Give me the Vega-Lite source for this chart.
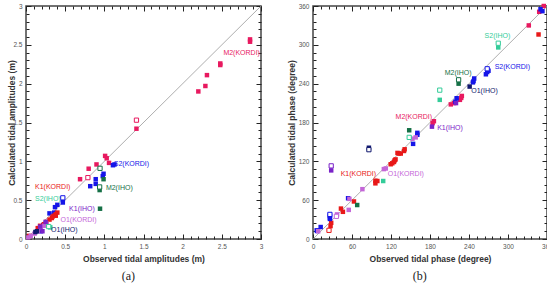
{
  "$schema": "https://vega.github.io/schema/vega-lite/v6.json",
  "padding": {"left": 7, "top": 2, "right": 0, "bottom": 0},
  "background": "white",
  "spacing": 22,
  "config": {
    "font": "Liberation Sans",
    "view": {"stroke": "#444", "strokeWidth": 1.5},
    "axis": {"grid": false, "domain": false, "tickColor": "#222", "tickWidth": 1, "labelFontSize": 6.5, "labelColor": "#555", "labelFont": "Liberation Sans", "titleFont": "Liberation Sans", "titleFontSize": 8.5, "titleFontWeight": "bold", "titleColor": "#333", "labelFlush": false, "labelOverlap": false, "labelPadding": 9}
  },
  "datasets": {
    "adiag": [{"x0": 0, "y0": 0, "x1": 3, "y1": 3}],
    "bdiag": [{"x0": 0, "y0": 0, "x1": 360, "y1": 360}],
    "a": [
      {"s": "M2(KORDI)", "x": 2.86, "y": 2.57, "o": 0},
      {"s": "M2(KORDI)", "x": 2.86, "y": 2.54, "o": 0},
      {"s": "M2(KORDI)", "x": 2.48, "y": 2.26, "o": 0},
      {"s": "M2(KORDI)", "x": 2.48, "y": 2.24, "o": 0},
      {"s": "M2(KORDI)", "x": 2.31, "y": 2.11, "o": 0},
      {"s": "M2(KORDI)", "x": 2.29, "y": 1.97, "o": 0},
      {"s": "M2(KORDI)", "x": 2.2, "y": 1.9, "o": 0},
      {"s": "M2(KORDI)", "x": 1.41, "y": 1.42, "o": 0},
      {"s": "M2(KORDI)", "x": 1.01, "y": 1.07, "o": 0},
      {"s": "M2(KORDI)", "x": 1.03, "y": 1.04, "o": 0},
      {"s": "M2(KORDI)", "x": 1.06, "y": 0.98, "o": 0},
      {"s": "M2(KORDI)", "x": 0.9, "y": 0.96, "o": 0},
      {"s": "M2(KORDI)", "x": 0.8, "y": 0.905, "o": 0},
      {"s": "M2(KORDI)", "x": 0.69, "y": 0.77, "o": 0},
      {"s": "M2(KORDI)", "x": 1.41, "y": 1.53, "o": 1},
      {"s": "M2(KORDI)", "x": 0.79, "y": 0.79, "o": 1},
      {"s": "S2(KORDI)", "x": 1.13, "y": 0.96, "o": 0},
      {"s": "S2(KORDI)", "x": 1.11, "y": 0.95, "o": 0},
      {"s": "S2(KORDI)", "x": 0.99, "y": 0.84, "o": 0},
      {"s": "S2(KORDI)", "x": 0.98, "y": 0.81, "o": 0},
      {"s": "S2(KORDI)", "x": 0.89, "y": 0.77, "o": 0},
      {"s": "S2(KORDI)", "x": 0.89, "y": 0.71, "o": 0},
      {"s": "S2(KORDI)", "x": 0.82, "y": 0.68, "o": 0},
      {"s": "S2(KORDI)", "x": 0.47, "y": 0.51, "o": 0},
      {"s": "S2(KORDI)", "x": 0.47, "y": 0.47, "o": 0},
      {"s": "S2(KORDI)", "x": 0.4, "y": 0.44, "o": 0},
      {"s": "S2(KORDI)", "x": 0.37, "y": 0.41, "o": 0},
      {"s": "S2(KORDI)", "x": 0.36, "y": 0.34, "o": 0},
      {"s": "S2(KORDI)", "x": 0.3, "y": 0.33, "o": 0},
      {"s": "S2(KORDI)", "x": 0.19, "y": 0.1, "o": 0},
      {"s": "S2(KORDI)", "x": 0.22, "y": 0.18, "o": 0},
      {"s": "S2(KORDI)", "x": 0.47, "y": 0.53, "o": 1},
      {"s": "M2(IHO)", "x": 0.99, "y": 0.77, "o": 0},
      {"s": "M2(IHO)", "x": 0.94, "y": 0.63, "o": 0},
      {"s": "M2(IHO)", "x": 0.945, "y": 0.39, "o": 0},
      {"s": "M2(IHO)", "x": 0.945, "y": 0.91, "o": 1},
      {"s": "M2(IHO)", "x": 0.94, "y": 0.67, "o": 1},
      {"s": "K1(KORDI)", "x": 0.4, "y": 0.34, "o": 0},
      {"s": "K1(KORDI)", "x": 0.38, "y": 0.32, "o": 0},
      {"s": "K1(KORDI)", "x": 0.36, "y": 0.3, "o": 0},
      {"s": "K1(KORDI)", "x": 0.33, "y": 0.27, "o": 0},
      {"s": "K1(KORDI)", "x": 0.3, "y": 0.25, "o": 0},
      {"s": "K1(KORDI)", "x": 0.26, "y": 0.22, "o": 0},
      {"s": "K1(KORDI)", "x": 0.23, "y": 0.19, "o": 0},
      {"s": "K1(KORDI)", "x": 0.18, "y": 0.17, "o": 0},
      {"s": "K1(KORDI)", "x": 0.15, "y": 0.14, "o": 0},
      {"s": "K1(KORDI)", "x": 0.04, "y": 0.04, "o": 0},
      {"s": "K1(KORDI)", "x": 0.38, "y": 0.3, "o": 0},
      {"s": "K1(KORDI)", "x": 0.34, "y": 0.29, "o": 0},
      {"s": "O1(KORDI)", "x": 0.06, "y": 0.04, "o": 0},
      {"s": "O1(KORDI)", "x": 0.11, "y": 0.07, "o": 0},
      {"s": "O1(KORDI)", "x": 0.15, "y": 0.1, "o": 0},
      {"s": "O1(KORDI)", "x": 0.19, "y": 0.14, "o": 0},
      {"s": "O1(KORDI)", "x": 0.23, "y": 0.17, "o": 0},
      {"s": "O1(KORDI)", "x": 0.26, "y": 0.2, "o": 0},
      {"s": "O1(KORDI)", "x": 0.03, "y": 0.02, "o": 0},
      {"s": "K1(IHO)", "x": 0.21, "y": 0.1, "o": 0},
      {"s": "K1(IHO)", "x": 0.18, "y": 0.16, "o": 0},
      {"s": "K1(IHO)", "x": 0.25, "y": 0.22, "o": 0},
      {"s": "O1(IHO)", "x": 0.14, "y": 0.1, "o": 0},
      {"s": "O1(IHO)", "x": 0.12, "y": 0.09, "o": 0},
      {"s": "S2(IHO)", "x": 0.31, "y": 0.15, "o": 0},
      {"s": "S2(IHO)", "x": 0.29, "y": 0.16, "o": 1}
    ],
    "alab": [
      {"s": "M2(KORDI)", "x": 2.52, "y": 2.39},
      {"s": "S2(KORDI)", "x": 1.12, "y": 0.97},
      {"s": "M2(IHO)", "x": 1.02, "y": 0.66},
      {"s": "K1(KORDI)", "x": 0.115, "y": 0.67},
      {"s": "S2(IHO)", "x": 0.115, "y": 0.51},
      {"s": "K1(IHO)", "x": 0.55, "y": 0.38},
      {"s": "O1(KORDI)", "x": 0.44, "y": 0.24},
      {"s": "O1(IHO)", "x": 0.32, "y": 0.12}
    ],
    "b": [
      {"s": "M2(KORDI)", "x": 355, "y": 360, "o": 0},
      {"s": "M2(KORDI)", "x": 348, "y": 351, "o": 0},
      {"s": "M2(KORDI)", "x": 332, "y": 330, "o": 0},
      {"s": "M2(KORDI)", "x": 229, "y": 221, "o": 0},
      {"s": "M2(KORDI)", "x": 228, "y": 218, "o": 0},
      {"s": "M2(KORDI)", "x": 226, "y": 215, "o": 0},
      {"s": "M2(KORDI)", "x": 212, "y": 208, "o": 0},
      {"s": "M2(KORDI)", "x": 217, "y": 210, "o": 0},
      {"s": "M2(KORDI)", "x": 186, "y": 182, "o": 0},
      {"s": "M2(KORDI)", "x": 184, "y": 179, "o": 0},
      {"s": "K1(KORDI)", "x": 347, "y": 316, "o": 0},
      {"s": "K1(KORDI)", "x": 119.5, "y": 115.5, "o": 0},
      {"s": "K1(KORDI)", "x": 122, "y": 117, "o": 0},
      {"s": "K1(KORDI)", "x": 124.6, "y": 119, "o": 0},
      {"s": "K1(KORDI)", "x": 125.7, "y": 121.6, "o": 0},
      {"s": "K1(KORDI)", "x": 127, "y": 123, "o": 0},
      {"s": "K1(KORDI)", "x": 130, "y": 133, "o": 0},
      {"s": "K1(KORDI)", "x": 132, "y": 132, "o": 0},
      {"s": "K1(KORDI)", "x": 135, "y": 132, "o": 0},
      {"s": "K1(KORDI)", "x": 140, "y": 136, "o": 0},
      {"s": "K1(KORDI)", "x": 141, "y": 138.6, "o": 0},
      {"s": "K1(KORDI)", "x": 96, "y": 90, "o": 0},
      {"s": "K1(KORDI)", "x": 96, "y": 86, "o": 0},
      {"s": "K1(KORDI)", "x": 99, "y": 89.6, "o": 0},
      {"s": "K1(KORDI)", "x": 63, "y": 58, "o": 0},
      {"s": "K1(KORDI)", "x": 43, "y": 47, "o": 0},
      {"s": "K1(KORDI)", "x": 46, "y": 42, "o": 0},
      {"s": "K1(KORDI)", "x": 27, "y": 20, "o": 0},
      {"s": "K1(KORDI)", "x": 28, "y": 25, "o": 0},
      {"s": "K1(KORDI)", "x": 24.6, "y": 13.4, "o": 1},
      {"s": "S2(KORDI)", "x": 350, "y": 355, "o": 0},
      {"s": "S2(KORDI)", "x": 353, "y": 352, "o": 0},
      {"s": "S2(KORDI)", "x": 268, "y": 258, "o": 0},
      {"s": "S2(KORDI)", "x": 270, "y": 260, "o": 0},
      {"s": "S2(KORDI)", "x": 266, "y": 254.5, "o": 0},
      {"s": "S2(KORDI)", "x": 248, "y": 248, "o": 0},
      {"s": "S2(KORDI)", "x": 247, "y": 244, "o": 0},
      {"s": "S2(KORDI)", "x": 246, "y": 242, "o": 0},
      {"s": "S2(KORDI)", "x": 221, "y": 217.5, "o": 0},
      {"s": "S2(KORDI)", "x": 219, "y": 212, "o": 0},
      {"s": "S2(KORDI)", "x": 160.5, "y": 164, "o": 0},
      {"s": "S2(KORDI)", "x": 160.5, "y": 161, "o": 0},
      {"s": "S2(KORDI)", "x": 154, "y": 147, "o": 0},
      {"s": "S2(KORDI)", "x": 54, "y": 63, "o": 0},
      {"s": "S2(KORDI)", "x": 26, "y": 36, "o": 0},
      {"s": "S2(KORDI)", "x": 26, "y": 33, "o": 0},
      {"s": "S2(KORDI)", "x": 26, "y": 31, "o": 0},
      {"s": "S2(KORDI)", "x": 6.6, "y": 12.4, "o": 0},
      {"s": "S2(KORDI)", "x": 11.8, "y": 18.5, "o": 0},
      {"s": "S2(KORDI)", "x": 5.7, "y": 13.4, "o": 0},
      {"s": "S2(KORDI)", "x": 268, "y": 263, "o": 1},
      {"s": "S2(KORDI)", "x": 26, "y": 38, "o": 1},
      {"s": "S2(IHO)", "x": 285, "y": 296, "o": 0},
      {"s": "S2(IHO)", "x": 195, "y": 215, "o": 0},
      {"s": "S2(IHO)", "x": 108, "y": 89.6, "o": 0},
      {"s": "S2(IHO)", "x": 285, "y": 302.5, "o": 1},
      {"s": "S2(IHO)", "x": 195, "y": 230, "o": 1},
      {"s": "S2(IHO)", "x": 148, "y": 157, "o": 1},
      {"s": "M2(IHO)", "x": 224, "y": 240, "o": 0},
      {"s": "M2(IHO)", "x": 148, "y": 168, "o": 0},
      {"s": "M2(IHO)", "x": 68, "y": 52.5, "o": 0},
      {"s": "M2(IHO)", "x": 224, "y": 246, "o": 1},
      {"s": "O1(IHO)", "x": 241, "y": 235.5, "o": 0},
      {"s": "O1(IHO)", "x": 86, "y": 141, "o": 0},
      {"s": "O1(IHO)", "x": 86, "y": 138, "o": 1},
      {"s": "K1(IHO)", "x": 183, "y": 173.6, "o": 0},
      {"s": "K1(IHO)", "x": 220, "y": 210, "o": 0},
      {"s": "K1(IHO)", "x": 28, "y": 106, "o": 0},
      {"s": "K1(IHO)", "x": 28, "y": 113, "o": 1},
      {"s": "O1(KORDI)", "x": 153, "y": 155, "o": 0},
      {"s": "O1(KORDI)", "x": 158, "y": 157, "o": 0},
      {"s": "O1(KORDI)", "x": 109, "y": 108, "o": 0},
      {"s": "O1(KORDI)", "x": 112, "y": 109, "o": 0},
      {"s": "O1(KORDI)", "x": 76, "y": 77, "o": 0},
      {"s": "O1(KORDI)", "x": 56, "y": 62, "o": 0},
      {"s": "O1(KORDI)", "x": 55, "y": 45, "o": 0},
      {"s": "O1(KORDI)", "x": 37, "y": 38, "o": 0},
      {"s": "O1(KORDI)", "x": 8, "y": 12, "o": 0},
      {"s": "O1(KORDI)", "x": 36, "y": 35, "o": 1}
    ],
    "blab": [
      {"s": "S2(IHO)", "x": 264, "y": 314},
      {"s": "S2(KORDI)", "x": 279.5, "y": 266},
      {"s": "M2(IHO)", "x": 202.6, "y": 256},
      {"s": "O1(IHO)", "x": 243.5, "y": 229},
      {"s": "M2(KORDI)", "x": 127, "y": 188.6},
      {"s": "K1(IHO)", "x": 191, "y": 172},
      {"s": "K1(KORDI)", "x": 42.6, "y": 101},
      {"s": "O1(KORDI)", "x": 115, "y": 101}
    ]
  },
  "hconcat": [
    {
      "width": 235,
      "height": 233,
      "title": {"text": "(a)", "orient": "bottom", "frame": "bounds", "anchor": "middle", "font": "Liberation Serif", "fontSize": 12, "fontWeight": "normal", "color": "#222", "offset": 8, "dx": -7},
      "layer": [
        {
          "data": {"name": "adiag"},
          "mark": {"type": "rule", "color": "#999", "strokeWidth": 0.8},
          "encoding": {
            "x": {"field": "x0", "type": "quantitative", "scale": {"domain": [0, 3], "nice": false},
              "axis": {"orient": "top", "labels": false, "title": null, "values": [0,0.1,0.2,0.3,0.4,0.5,0.6,0.7,0.8,0.9,1,1.1,1.2,1.3,1.4,1.5,1.6,1.7,1.8,1.9,2,2.1,2.2,2.3,2.4,2.5,2.6,2.7,2.8,2.9,3],
                "tickSize": {"condition": {"test": "round(datum.value*10) % 5 === 0", "value": -5}, "value": -3}}},
            "y": {"field": "y0", "type": "quantitative", "scale": {"domain": [0, 3], "nice": false},
              "axis": {"orient": "right", "labels": false, "title": null, "values": [0,0.1,0.2,0.3,0.4,0.5,0.6,0.7,0.8,0.9,1,1.1,1.2,1.3,1.4,1.5,1.6,1.7,1.8,1.9,2,2.1,2.2,2.3,2.4,2.5,2.6,2.7,2.8,2.9,3],
                "tickSize": {"condition": {"test": "round(datum.value*10) % 5 === 0", "value": -5}, "value": -3}}},
            "x2": {"field": "x1"},
            "y2": {"field": "y1"}
          }
        },
        {
          "data": {"name": "a"},
          "transform": [{"filter": "datum.o == 0"}],
          "mark": {"type": "square", "size": 20, "opacity": 1},
          "encoding": {
            "x": {"field": "x", "type": "quantitative", "scale": {"domain": [0, 3], "nice": false},
              "axis": {"orient": "bottom", "title": "Observed tidal amplitudes (m)", "titlePadding": 3, "values": [0,0.1,0.2,0.3,0.4,0.5,0.6,0.7,0.8,0.9,1,1.1,1.2,1.3,1.4,1.5,1.6,1.7,1.8,1.9,2,2.1,2.2,2.3,2.4,2.5,2.6,2.7,2.8,2.9,3],
                "labelExpr": "round(datum.value*10) % 5 === 0 ? format(datum.value, '~g') : ''",
                "tickSize": {"condition": {"test": "round(datum.value*10) % 5 === 0", "value": -5}, "value": -3}}},
            "y": {"field": "y", "type": "quantitative", "scale": {"domain": [0, 3], "nice": false},
              "axis": {"orient": "left", "title": "Calculated tidal amplitudes (m)", "titlePadding": -4, "values": [0,0.1,0.2,0.3,0.4,0.5,0.6,0.7,0.8,0.9,1,1.1,1.2,1.3,1.4,1.5,1.6,1.7,1.8,1.9,2,2.1,2.2,2.3,2.4,2.5,2.6,2.7,2.8,2.9,3],
                "labelExpr": "round(datum.value*10) % 5 === 0 ? format(datum.value, '~g') : ''",
                "tickSize": {"condition": {"test": "round(datum.value*10) % 5 === 0", "value": -5}, "value": -3}}},
            "color": {"field": "s", "type": "nominal", "legend": null,
              "scale": {"domain": ["M2(KORDI)", "K1(KORDI)", "S2(KORDI)", "O1(KORDI)", "M2(IHO)", "K1(IHO)", "S2(IHO)", "O1(IHO)"],
                "range": ["#e8195f", "#e81818", "#1515e8", "#c466d8", "#157046", "#7a22c8", "#33cc99", "#10186e"]}}
          }
        },
        {
          "data": {"name": "a"},
          "transform": [{"filter": "datum.o == 1"}],
          "mark": {"type": "point", "shape": "square", "filled": false, "fill": "white", "fillOpacity": 1, "size": 18, "strokeWidth": 1, "opacity": 1},
          "encoding": {
            "x": {"field": "x", "type": "quantitative", "axis": null},
            "y": {"field": "y", "type": "quantitative", "axis": null},
            "color": {"field": "s", "type": "nominal", "legend": null}
          }
        },
        {
          "data": {"name": "alab"},
          "mark": {"type": "text", "align": "left", "baseline": "middle", "fontSize": 7, "font": "Liberation Sans"},
          "encoding": {
            "x": {"field": "x", "type": "quantitative", "axis": null},
            "y": {"field": "y", "type": "quantitative", "axis": null},
            "text": {"field": "s"},
            "color": {"field": "s", "type": "nominal", "legend": null}
          }
        }
      ],
      "resolve": {"axis": {"x": "independent", "y": "independent"}}
    },
    {
      "width": 234,
      "height": 233,
      "title": {"text": "(b)", "orient": "bottom", "frame": "bounds", "anchor": "middle", "font": "Liberation Serif", "fontSize": 12, "fontWeight": "normal", "color": "#222", "offset": 8},
      "layer": [
        {
          "data": {"name": "bdiag"},
          "mark": {"type": "rule", "color": "#999", "strokeWidth": 0.8},
          "encoding": {
            "x": {"field": "x0", "type": "quantitative", "scale": {"domain": [0, 360], "nice": false},
              "axis": {"orient": "top", "labels": false, "title": null, "values": [0,12,24,36,48,60,72,84,96,108,120,132,144,156,168,180,192,204,216,228,240,252,264,276,288,300,312,324,336,348,360],
                "tickSize": {"condition": {"test": "datum.value % 60 === 0", "value": -5}, "value": -3}}},
            "y": {"field": "y0", "type": "quantitative", "scale": {"domain": [0, 360], "nice": false},
              "axis": {"orient": "right", "labels": false, "title": null, "values": [0,12,24,36,48,60,72,84,96,108,120,132,144,156,168,180,192,204,216,228,240,252,264,276,288,300,312,324,336,348,360],
                "tickSize": {"condition": {"test": "datum.value % 60 === 0", "value": -5}, "value": -3}}},
            "x2": {"field": "x1"},
            "y2": {"field": "y1"}
          }
        },
        {
          "data": {"name": "b"},
          "transform": [{"filter": "datum.o == 0"}],
          "mark": {"type": "square", "size": 20, "opacity": 1},
          "encoding": {
            "x": {"field": "x", "type": "quantitative", "scale": {"domain": [0, 360], "nice": false},
              "axis": {"orient": "bottom", "title": "Observed tidal phase (degree)", "titlePadding": 3, "values": [0,12,24,36,48,60,72,84,96,108,120,132,144,156,168,180,192,204,216,228,240,252,264,276,288,300,312,324,336,348,360],
                "labelExpr": "datum.value % 60 === 0 ? datum.label : ''",
                "tickSize": {"condition": {"test": "datum.value % 60 === 0", "value": -5}, "value": -3}}},
            "y": {"field": "y", "type": "quantitative", "scale": {"domain": [0, 360], "nice": false},
              "axis": {"orient": "left", "title": "Calculated tidal phase (degree)", "titlePadding": 2, "values": [0,12,24,36,48,60,72,84,96,108,120,132,144,156,168,180,192,204,216,228,240,252,264,276,288,300,312,324,336,348,360],
                "labelExpr": "datum.value % 60 === 0 ? datum.label : ''",
                "tickSize": {"condition": {"test": "datum.value % 60 === 0", "value": -5}, "value": -3}}},
            "color": {"field": "s", "type": "nominal", "legend": null,
              "scale": {"domain": ["M2(KORDI)", "K1(KORDI)", "S2(KORDI)", "O1(KORDI)", "M2(IHO)", "K1(IHO)", "S2(IHO)", "O1(IHO)"],
                "range": ["#e8195f", "#e81818", "#1515e8", "#c466d8", "#157046", "#7a22c8", "#33cc99", "#10186e"]}}
          }
        },
        {
          "data": {"name": "b"},
          "transform": [{"filter": "datum.o == 1"}],
          "mark": {"type": "point", "shape": "square", "filled": false, "fill": "white", "fillOpacity": 1, "size": 18, "strokeWidth": 1, "opacity": 1},
          "encoding": {
            "x": {"field": "x", "type": "quantitative", "axis": null},
            "y": {"field": "y", "type": "quantitative", "axis": null},
            "color": {"field": "s", "type": "nominal", "legend": null}
          }
        },
        {
          "data": {"name": "blab"},
          "mark": {"type": "text", "align": "left", "baseline": "middle", "fontSize": 7, "font": "Liberation Sans"},
          "encoding": {
            "x": {"field": "x", "type": "quantitative", "axis": null},
            "y": {"field": "y", "type": "quantitative", "axis": null},
            "text": {"field": "s"},
            "color": {"field": "s", "type": "nominal", "legend": null}
          }
        }
      ],
      "resolve": {"axis": {"x": "independent", "y": "independent"}}
    }
  ]
}
